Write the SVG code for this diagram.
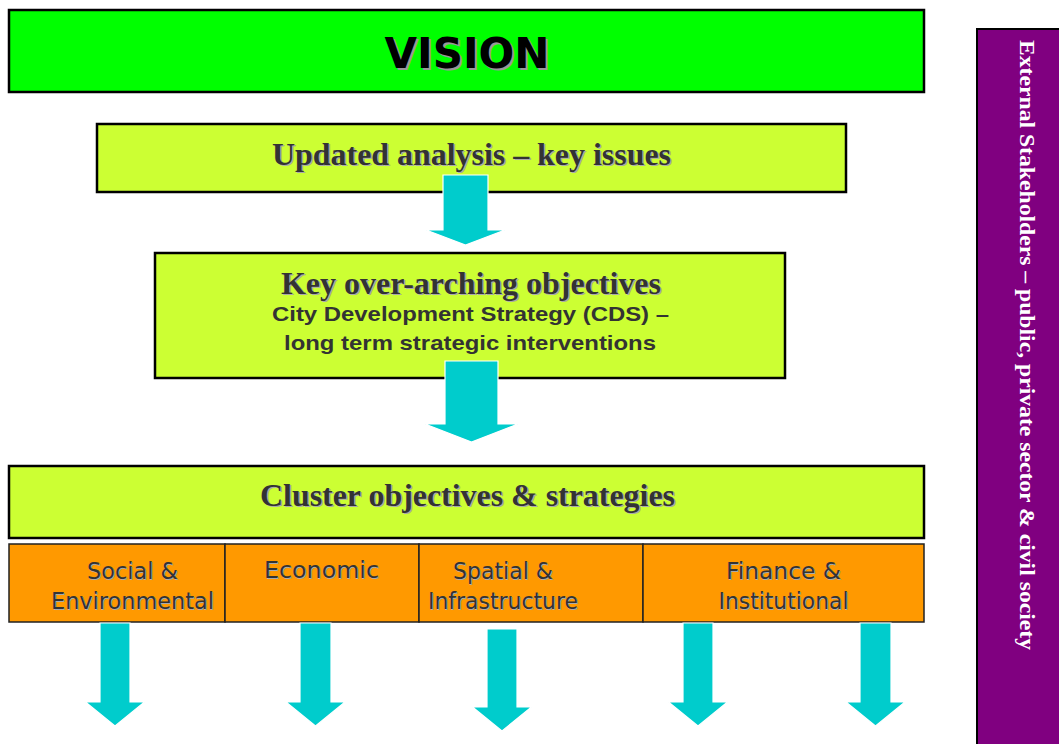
<svg xmlns="http://www.w3.org/2000/svg" width="1059" height="744" viewBox="0 0 1059 744">
<style>
.box{stroke:#000;stroke-width:2.5}
.green{fill:#00FF00}
.lime{fill:#CCFF33}
.orange{fill:#FF9900;stroke:#222;stroke-width:1.5}
.serif{font-family:"Liberation Serif","Times New Roman",serif;font-weight:bold;fill:#333}
.sans{font-family:"Liberation Sans",Arial,sans-serif;font-weight:bold;fill:#333}
.cl{font-family:"DejaVu Sans",Verdana,sans-serif;fill:#333;font-size:23px}
.sh{fill:#aaa}
.arrow{fill:#00CCCC;stroke:#fff;stroke-width:1.2}
</style>
<rect width="1059" height="744" fill="#fff"/>

<g id="vision">
<rect class="box green" x="9" y="10" width="915" height="82"/>
<text x="469" y="70" text-anchor="middle" font-family="DejaVu Sans,sans-serif" font-weight="bold" font-size="42" fill="#999">VISION</text>
<text x="467" y="68" text-anchor="middle" font-family="DejaVu Sans,sans-serif" font-weight="bold" font-size="42" fill="#000">VISION</text>
</g>

<g id="updated-analysis">
<rect class="box lime" x="97" y="124" width="749" height="68"/>
<text class="serif sh" x="473" y="166" text-anchor="middle" font-size="32" textLength="399" lengthAdjust="spacingAndGlyphs">Updated analysis – key issues</text>
<text class="serif" x="471.5" y="164.5" text-anchor="middle" font-size="32" textLength="399" lengthAdjust="spacingAndGlyphs">Updated analysis – key issues</text>
</g>

<g id="key-objectives">
<rect class="box lime" x="155" y="253" width="630" height="125"/>
<text class="serif sh" x="472.5" y="295" text-anchor="middle" font-size="32" textLength="380" lengthAdjust="spacingAndGlyphs">Key over-arching objectives</text>
<text class="serif" x="471" y="293.5" text-anchor="middle" font-size="32" textLength="380" lengthAdjust="spacingAndGlyphs">Key over-arching objectives</text>
<text class="sans" x="470.5" y="321" text-anchor="middle" font-size="20.5" textLength="397" lengthAdjust="spacingAndGlyphs">City Development Strategy (CDS) –</text>
<text class="sans" x="470" y="350" text-anchor="middle" font-size="20.5" textLength="372" lengthAdjust="spacingAndGlyphs">long term strategic interventions</text>
</g>

<g id="cluster">
<rect class="box lime" x="9" y="466" width="915" height="72"/>
<text class="serif sh" x="469" y="507" text-anchor="middle" font-size="32" textLength="415" lengthAdjust="spacingAndGlyphs">Cluster objectives &amp; strategies</text>
<text class="serif" x="467.5" y="505.5" text-anchor="middle" font-size="32" textLength="415" lengthAdjust="spacingAndGlyphs">Cluster objectives &amp; strategies</text>
</g>

<g id="social-environmental">
<rect class="orange" x="9" y="544" width="216" height="78"/>
<text class="cl sh" x="133.5" y="580" text-anchor="middle" textLength="91" lengthAdjust="spacingAndGlyphs">Social &amp;</text>
<text class="cl" x="132.5" y="579" text-anchor="middle" textLength="91" lengthAdjust="spacingAndGlyphs">Social &amp;</text>
<text class="cl sh" x="133.5" y="610" text-anchor="middle" textLength="163" lengthAdjust="spacingAndGlyphs">Environmental</text>
<text class="cl" x="132.5" y="609" text-anchor="middle" textLength="163" lengthAdjust="spacingAndGlyphs">Environmental</text>
</g>
<g id="economic">
<rect class="orange" x="225" y="544" width="194" height="78"/>
<text class="cl sh" x="322.5" y="579" text-anchor="middle" textLength="115" lengthAdjust="spacingAndGlyphs">Economic</text>
<text class="cl" x="321.5" y="578" text-anchor="middle" textLength="115" lengthAdjust="spacingAndGlyphs">Economic</text>
</g>
<g id="spatial-infrastructure">
<rect class="orange" x="419" y="544" width="224" height="78"/>
<text class="cl sh" x="504" y="580" text-anchor="middle" textLength="100" lengthAdjust="spacingAndGlyphs">Spatial &amp;</text>
<text class="cl" x="503" y="579" text-anchor="middle" textLength="100" lengthAdjust="spacingAndGlyphs">Spatial &amp;</text>
<text class="cl sh" x="504" y="610" text-anchor="middle" textLength="150" lengthAdjust="spacingAndGlyphs">Infrastructure</text>
<text class="cl" x="503" y="609" text-anchor="middle" textLength="150" lengthAdjust="spacingAndGlyphs">Infrastructure</text>
</g>
<g id="finance-institutional">
<rect class="orange" x="643" y="544" width="281" height="78"/>
<text class="cl sh" x="784.5" y="580" text-anchor="middle" textLength="115" lengthAdjust="spacingAndGlyphs">Finance &amp;</text>
<text class="cl" x="783.5" y="579" text-anchor="middle" textLength="115" lengthAdjust="spacingAndGlyphs">Finance &amp;</text>
<text class="cl sh" x="784.5" y="610" text-anchor="middle" textLength="130" lengthAdjust="spacingAndGlyphs">Institutional</text>
<text class="cl" x="783.5" y="609" text-anchor="middle" textLength="130" lengthAdjust="spacingAndGlyphs">Institutional</text>
</g>

<g id="stakeholders">
<rect x="977" y="29" width="90" height="730" fill="#800080" stroke="#000" stroke-width="2"/>
<text transform="translate(1020,345) rotate(90)" text-anchor="middle" font-family="Liberation Serif,Times New Roman,serif" font-weight="bold" font-size="22" fill="#fff" textLength="610" lengthAdjust="spacingAndGlyphs">External Stakeholders – public, private sector &amp; civil society</text>
</g>

<g id="connectors">
<polygon class="arrow" points="443,175 488,175 488,230 505,230 465.5,245 426,230 443,230"/>
<polygon class="arrow" points="445,361 498,361 498,424 518,424 471.5,442 425,424 445,424"/>
<polygon class="arrow" points="100,623 130,623 130,702 144.5,702 115,726 85.5,702 100,702"/>
<polygon class="arrow" points="300,623 331,623 331,702 345,702 315.5,726 286,702 300,702"/>
<polygon class="arrow" points="487,629 517,629 517,707 531.5,707 502,731 472.5,707 487,707"/>
<polygon class="arrow" points="683,623 713,623 713,702 727.5,702 698,726 668.5,702 683,702"/>
<polygon class="arrow" points="860,623 891,623 891,702 905,702 875.5,726 846,702 860,702"/>
</g>
</svg>
